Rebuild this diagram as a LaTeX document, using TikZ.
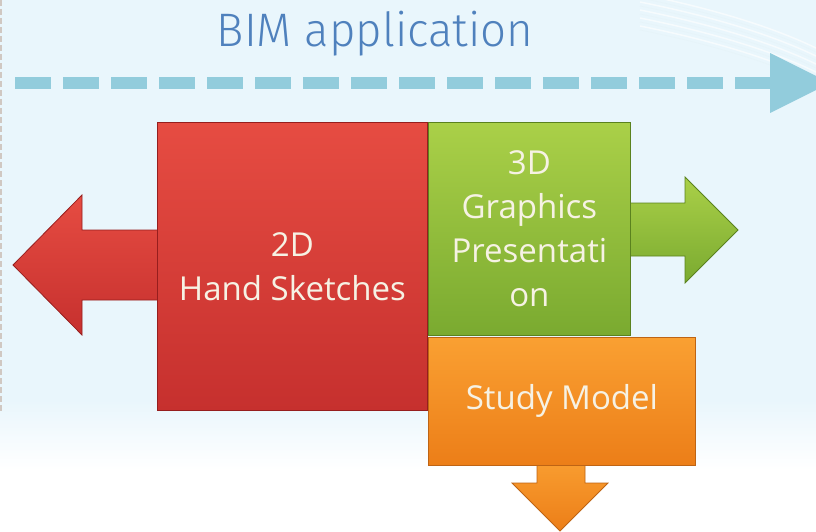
\documentclass[tikz,border=0pt]{standalone}
\usepackage{fontspec}
\setmainfont{Open Sans}
\newfontfamily\titlefont{Fira Sans Light}
\definecolor{bgblue}{RGB}{233,246,252}
\definecolor{dashblue}{RGB}{146,204,220}
\definecolor{titleblue}{RGB}{79,129,189}
\definecolor{redtop}{RGB}{230,76,66}
\definecolor{redbot}{RGB}{198,48,46}
\definecolor{redline}{RGB}{150,30,30}
\definecolor{greentop}{RGB}{170,208,72}
\definecolor{greenbot}{RGB}{122,170,48}
\definecolor{greenline}{RGB}{90,130,30}
\definecolor{orangetop}{RGB}{250,160,50}
\definecolor{orangebot}{RGB}{236,126,24}
\definecolor{orangeline}{RGB}{190,100,20}
\definecolor{boxtext}{RGB}{246,242,228}
\definecolor{bordergray}{RGB}{208,200,194}
\tikzset{
  boxbase/.style={anchor=north west, inner sep=0pt, align=center, text=boxtext, line width=0.8pt},
  redbox/.style={boxbase, draw=redline, top color=redtop, bottom color=redbot},
  greenbox/.style={boxbase, draw=greenline, top color=greentop, bottom color=greenbot},
  orangebox/.style={boxbase, draw=orangeline, top color=orangetop, bottom color=orangebot},
  redarrow/.style={draw=redline, line width=0.8pt, top color=redtop, bottom color=redbot},
  greenarrow/.style={draw=greenline, line width=0.8pt, top color=greentop, bottom color=greenbot},
  orangearrow/.style={draw=orangeline, line width=0.8pt, top color=orangetop, bottom color=orangebot},
  timeline/.style={draw=dashblue, line width=12pt, dash pattern=on 36pt off 12pt},
  boxfont/.style={font=\fontsize{33}{44}\selectfont},
}
\begin{document}
\begin{tikzpicture}[x=1pt,y=-1pt]
\useasboundingbox (0,0) rectangle (816,532);
\clip (0,0) rectangle (816,532);
% background
\fill[bgblue] (0,0) rectangle (816,400);
\shade[top color=bgblue, bottom color=white] (0,400) rectangle (816,470);
\fill[white] (0,470) rectangle (816,532);
% faint curves top right
\foreach \d in {0,8,16,24,32}{
  \draw[white, line width=1.5pt, opacity=0.6] (640,{\d-6}) .. controls (720,{\d+10}) and (780,{\d+30}) .. (820,{\d+50});
  \draw[dashblue!25, line width=0.6pt, opacity=0.5] (640,{\d-2}) .. controls (720,{\d+14}) and (780,{\d+34}) .. (820,{\d+54});
}
% left dashed border
\draw[bordergray, line width=2pt, dash pattern=on 6pt off 3pt] (1,0) -- (1,412);
% title
\node[font=\titlefont\fontsize{47}{52}\selectfont, text=titleblue, anchor=base] (title) at (375,47) {\scalebox{0.97}[1]{BIM application}};
% timeline
\coordinate (tstart) at (15,83);
\coordinate (tend) at (770,83);
\draw[timeline] (tstart) -- (tend);
\fill[dashblue] (770,53) -- (830,83) -- (770,113) -- cycle;
% arrows behind boxes
\path[redarrow] (170,230) -- (82,230) -- (82,195) -- (13,265) -- (82,335) -- (82,300) -- (170,300) -- cycle;
\path[greenarrow] (620,203) -- (685,203) -- (685,177) -- (738,230) -- (685,283) -- (685,256) -- (620,256) -- cycle;
\path[orangearrow] (537,455) -- (537,483) -- (512,483) -- (560,531) -- (608,483) -- (585,483) -- (585,455) -- cycle;
% boxes
\node[redbox, boxfont, minimum width=270pt, minimum height=288pt] (sketch) at (157,122) {2D\\Hand Sketches};
\node[greenbox, boxfont, minimum width=202pt, minimum height=213pt] (graphics) at (428,122) {3D\\Graphics\\Presentati\\on};
\node[orangebox, boxfont, minimum width=267pt, minimum height=128pt] (study) at (428,337) {Study Model};
\end{tikzpicture}
\end{document}
